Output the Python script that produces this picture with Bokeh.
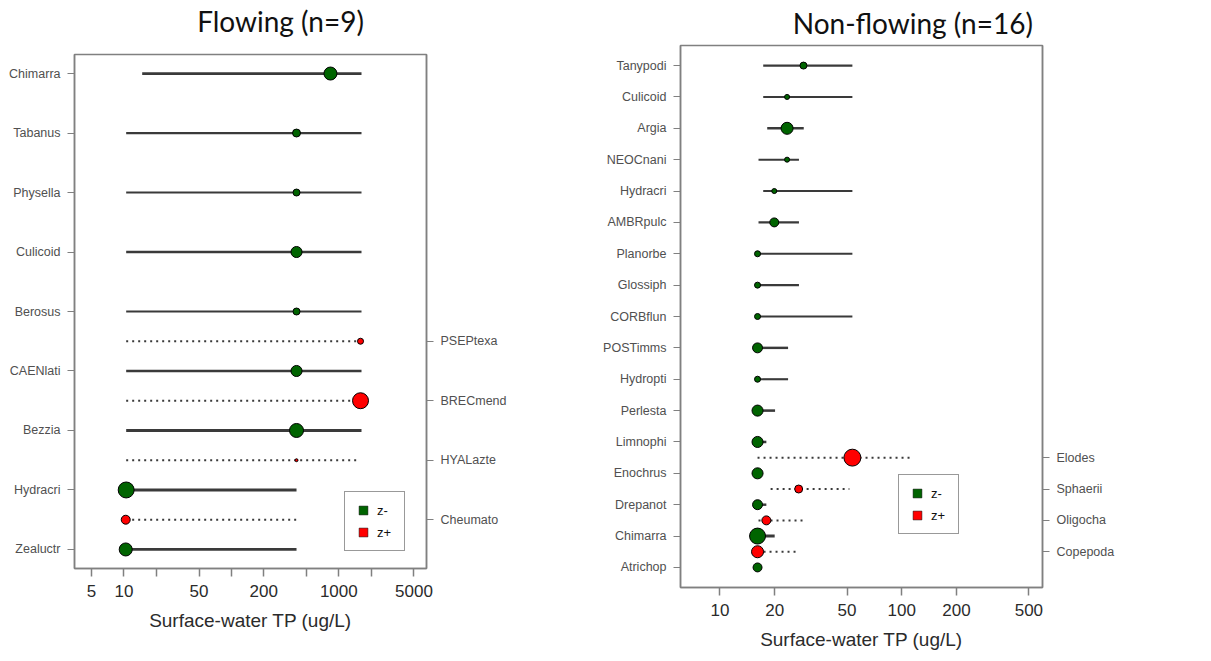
from bokeh.plotting import figure
from bokeh.models import (ColumnDataSource, FixedTicker, LinearAxis, Legend,
                          LegendItem, Range1d)
from bokeh.layouts import row
from bokeh.embed import file_html
from bokeh.resources import INLINE

# ---- Flowing sites (n=9) -------------------------------------------------
# Decreasing taxa (z-), listed bottom to top
flow_neg_taxa = ["Zealuctr", "Hydracri", "Bezzia", "CAENlati", "Berosus",
                 "Culicoid", "Physella", "Tabanus", "Chimarra"]
flow_neg_cp = [10.4, 10.5, 404, 404, 404, 404, 404, 404, 836]
flow_neg_q05 = [10.5, 10.5, 10.5, 10.5, 10.5, 10.5, 10.5, 10.5, 14.8]
flow_neg_q95 = [404, 404, 1626, 1626, 1626, 1626, 1626, 1626, 1626]
flow_neg_z = [9.3, 11.4, 10.0, 7.9, 5.0, 7.9, 5.0, 5.7, 9.3]

# Increasing taxa (z+), listed bottom to top
flow_pos_taxa = ["Cheumato", "HYALazte", "BRECmend", "PSEPtexa"]
flow_pos_cp = [10.4, 404, 1592, 1592]
flow_pos_q05 = [10.5, 10.5, 10.5, 10.5]
flow_pos_q95 = [404, 1514, 1626, 1626]
flow_pos_z = [6.4, 2.1, 11.4, 4.3]

flow_ticks = [5, 10, 20, 50, 100, 200, 500, 1000, 2000, 5000]
flow_tick_labels = ["5", "10", "", "50", "", "200", "", "1000", "", "5000"]

# ---- Non-flowing sites (n=16) --------------------------------------------
nonflow_neg_taxa = ["Atrichop", "Chimarra", "Drepanot", "Enochrus", "Limnophi",
                    "Perlesta", "Hydropti", "POSTimms", "CORBflun", "Glossiph",
                    "Planorbe", "AMBRpulc", "Hydracri", "NEOCnani", "Argia",
                    "Culicoid", "Tanypodi"]
nonflow_neg_cp = [16.1, 16.1, 16.1, 16.1, 16.1, 16.1, 16.1, 16.1, 16.1, 16.1,
                  16.1, 19.9, 19.9, 23.4, 23.4, 23.4, 28.8]
nonflow_neg_q05 = [16.1, 16.1, 16.1, 16.1, 16.1, 16.1, 16.1, 16.1, 16.1, 16.1,
                   16.1, 16.3, 17.3, 16.3, 18.2, 17.3, 17.3]
nonflow_neg_q95 = [16.2, 20.0, 18.0, 16.3, 18.0, 20.1, 23.7, 23.7, 53.5, 27.2,
                   53.5, 27.2, 53.5, 27.2, 28.9, 53.5, 53.5]
nonflow_neg_z = [6.4, 11.4, 7.1, 7.9, 7.9, 7.9, 4.3, 7.1, 4.3, 4.3,
                 4.3, 6.4, 3.6, 3.6, 8.6, 3.6, 5.0]

nonflow_pos_taxa = ["Copepoda", "Oligocha", "Sphaerii", "Elodes"]
nonflow_pos_cp = [16.1, 18.0, 27.1, 53.5]
nonflow_pos_q05 = [16.1, 16.3, 19.0, 16.1]
nonflow_pos_q95 = [27.1, 29.2, 51.5, 114]
nonflow_pos_z = [8.6, 6.4, 5.7, 12.1]

nonflow_ticks = [10, 20, 50, 100, 200, 500]
nonflow_tick_labels = ["10", "20", "50", "100", "200", "500"]

GREEN = "#006400"
RED = "#FF0000"
FRAME = "#808080"
AXIS_FONT = "Liberation Sans"
TITLE_FONT = "Lato"
X_LABEL = "Surface-water TP (ug/L)"
NAN = float("nan")


def taxa_source(cp, lo, hi, z, ys):
    return ColumnDataSource(dict(
        cp=cp, lo=lo, hi=hi, y=ys,
        size=[1.4 * v for v in z],          # symbol diameter grows with |z|
        lw=[1.6 + 0.12 * v for v in z],     # segment weight grows with |z|
    ))


def build_panel(neg, pos, ticks, tick_labels, x_lim, width, borders,
                title, title_x, title_gap, legend_loc):
    neg_taxa, neg_cp, neg_lo, neg_hi, neg_z = neg
    pos_taxa, pos_cp, pos_lo, pos_hi, pos_z = pos
    neg_y = [2 * i + 1 for i in range(len(neg_taxa))]
    pos_y = [2 * i + 2 for i in range(len(pos_taxa))]
    top = max(neg_y + pos_y)
    pad = 0.04 * (top - 1)

    left, right, up, down = borders
    p = figure(width=width, height=661, x_axis_type="log",
               x_range=Range1d(*x_lim), y_range=Range1d(1 - pad, top + pad),
               output_backend="svg", toolbar_location=None,
               min_border_left=left, min_border_right=right,
               min_border_top=up, min_border_bottom=down)
    p.frame_align = False
    p.grid.visible = False
    p.background_fill_color = "white"
    p.border_fill_color = "white"
    p.outline_line_color = FRAME
    p.outline_line_width = 1.5

    # panel heading, carried as the single label of a bare top axis
    head = LinearAxis(ticker=FixedTicker(ticks=[title_x]),
                      major_label_overrides={title_x: title},
                      axis_line_color=None, major_tick_line_color=None,
                      minor_tick_line_color=None, major_tick_out=0,
                      major_tick_in=0, major_label_standoff=title_gap,
                      major_label_text_font=TITLE_FONT,
                      major_label_text_font_size="28px",
                      major_label_text_color="#111111")
    p.add_layout(head, "above")

    # x axis
    xa = p.below[0]
    xa.ticker = FixedTicker(ticks=ticks)
    xa.major_label_overrides = {t: s for t, s in zip(ticks, tick_labels)}
    xa.minor_tick_line_color = None
    xa.major_tick_in = 0
    xa.major_tick_out = 8
    xa.major_tick_line_color = FRAME
    xa.major_tick_line_width = 1.5
    xa.axis_line_color = FRAME
    xa.axis_line_width = 1.5
    xa.major_label_text_font = AXIS_FONT
    xa.major_label_text_font_size = "17px"
    xa.major_label_text_color = "#2b2b2b"
    xa.major_label_standoff = 8
    xa.axis_label = X_LABEL
    xa.axis_label_text_font = AXIS_FONT
    xa.axis_label_text_font_size = "19px"
    xa.axis_label_text_font_style = "normal"
    xa.axis_label_text_color = "#2b2b2b"
    xa.axis_label_standoff = 10

    # left (z-) and right (z+) taxon axes
    def style_y(ax, positions, names):
        ax.ticker = FixedTicker(ticks=positions)
        ax.major_label_overrides = {t: s for t, s in zip(positions, names)}
        ax.minor_tick_line_color = None
        ax.major_tick_in = 0
        ax.major_tick_out = 7
        ax.major_tick_line_color = FRAME
        ax.major_tick_line_width = 1.2
        ax.axis_line_color = FRAME
        ax.axis_line_width = 1.5
        ax.major_label_text_font = AXIS_FONT
        ax.major_label_text_font_size = "12.5px"
        ax.major_label_text_color = "#505050"
        ax.major_label_standoff = 7

    style_y(p.left[0], neg_y, neg_taxa)
    ry = LinearAxis()
    style_y(ry, pos_y, pos_taxa)
    p.add_layout(ry, "right")

    neg_src = taxa_source(neg_cp, neg_lo, neg_hi, neg_z, neg_y)
    pos_src = taxa_source(pos_cp, pos_lo, pos_hi, pos_z, pos_y)

    # bootstrap change-point spread
    p.segment(x0="lo", x1="hi", y0="y", y1="y", source=neg_src,
              line_color="#3a3a3a", line_width="lw")
    p.segment(x0="lo", x1="hi", y0="y", y1="y", source=pos_src,
              line_color="#3a3a3a", line_width=2, line_dash="2 4")
    # observed change points
    p.scatter(x="cp", y="y", size="size", source=neg_src, marker="circle",
              fill_color=GREEN, line_color="black", line_width=1)
    p.scatter(x="cp", y="y", size="size", source=pos_src, marker="circle",
              fill_color=RED, line_color="black", line_width=1)

    # legend keys (off-scale points, only the legend swatch is seen)
    key_neg = p.scatter(x=[NAN], y=[NAN], marker="square", size=10,
                        fill_color=GREEN, line_color="black", line_width=0.5)
    key_pos = p.scatter(x=[NAN], y=[NAN], marker="square", size=10,
                        fill_color=RED, line_color="black", line_width=0.5)
    legend = Legend(items=[LegendItem(label="z-", renderers=[key_neg], index=0),
                           LegendItem(label="z+", renderers=[key_pos], index=0)],
                    location=legend_loc, orientation="vertical",
                    glyph_width=22, glyph_height=22, spacing=0,
                    padding=7, margin=0, label_standoff=3,
                    label_text_font=AXIS_FONT, label_text_font_size="13px",
                    label_text_color="#111111", label_height=22,
                    border_line_color="#333333", border_line_width=1,
                    background_fill_color="white", background_fill_alpha=1)
    p.add_layout(legend)
    return p


p1 = build_panel(
    (flow_neg_taxa, flow_neg_cp, flow_neg_q05, flow_neg_q95, flow_neg_z),
    (flow_pos_taxa, flow_pos_cp, flow_pos_q05, flow_pos_q95, flow_pos_z),
    flow_ticks, flow_tick_labels, (3.47, 6546), 600,
    (74, 174, 54, 93), "Flowing (n=9)", 287, 17, (270, 17))

p2 = build_panel(
    (nonflow_neg_taxa, nonflow_neg_cp, nonflow_neg_q05, nonflow_neg_q95, nonflow_neg_z),
    (nonflow_pos_taxa, nonflow_pos_cp, nonflow_pos_q05, nonflow_pos_q95, nonflow_pos_z),
    nonflow_ticks, nonflow_tick_labels, (6.07, 594), 611,
    (79, 169, 45, 74), "Non-flowing (n=16)", 115, 6, (218, 53))

layout = row(p1, p2)
open("out.html", "w").write(file_html(layout, INLINE))
